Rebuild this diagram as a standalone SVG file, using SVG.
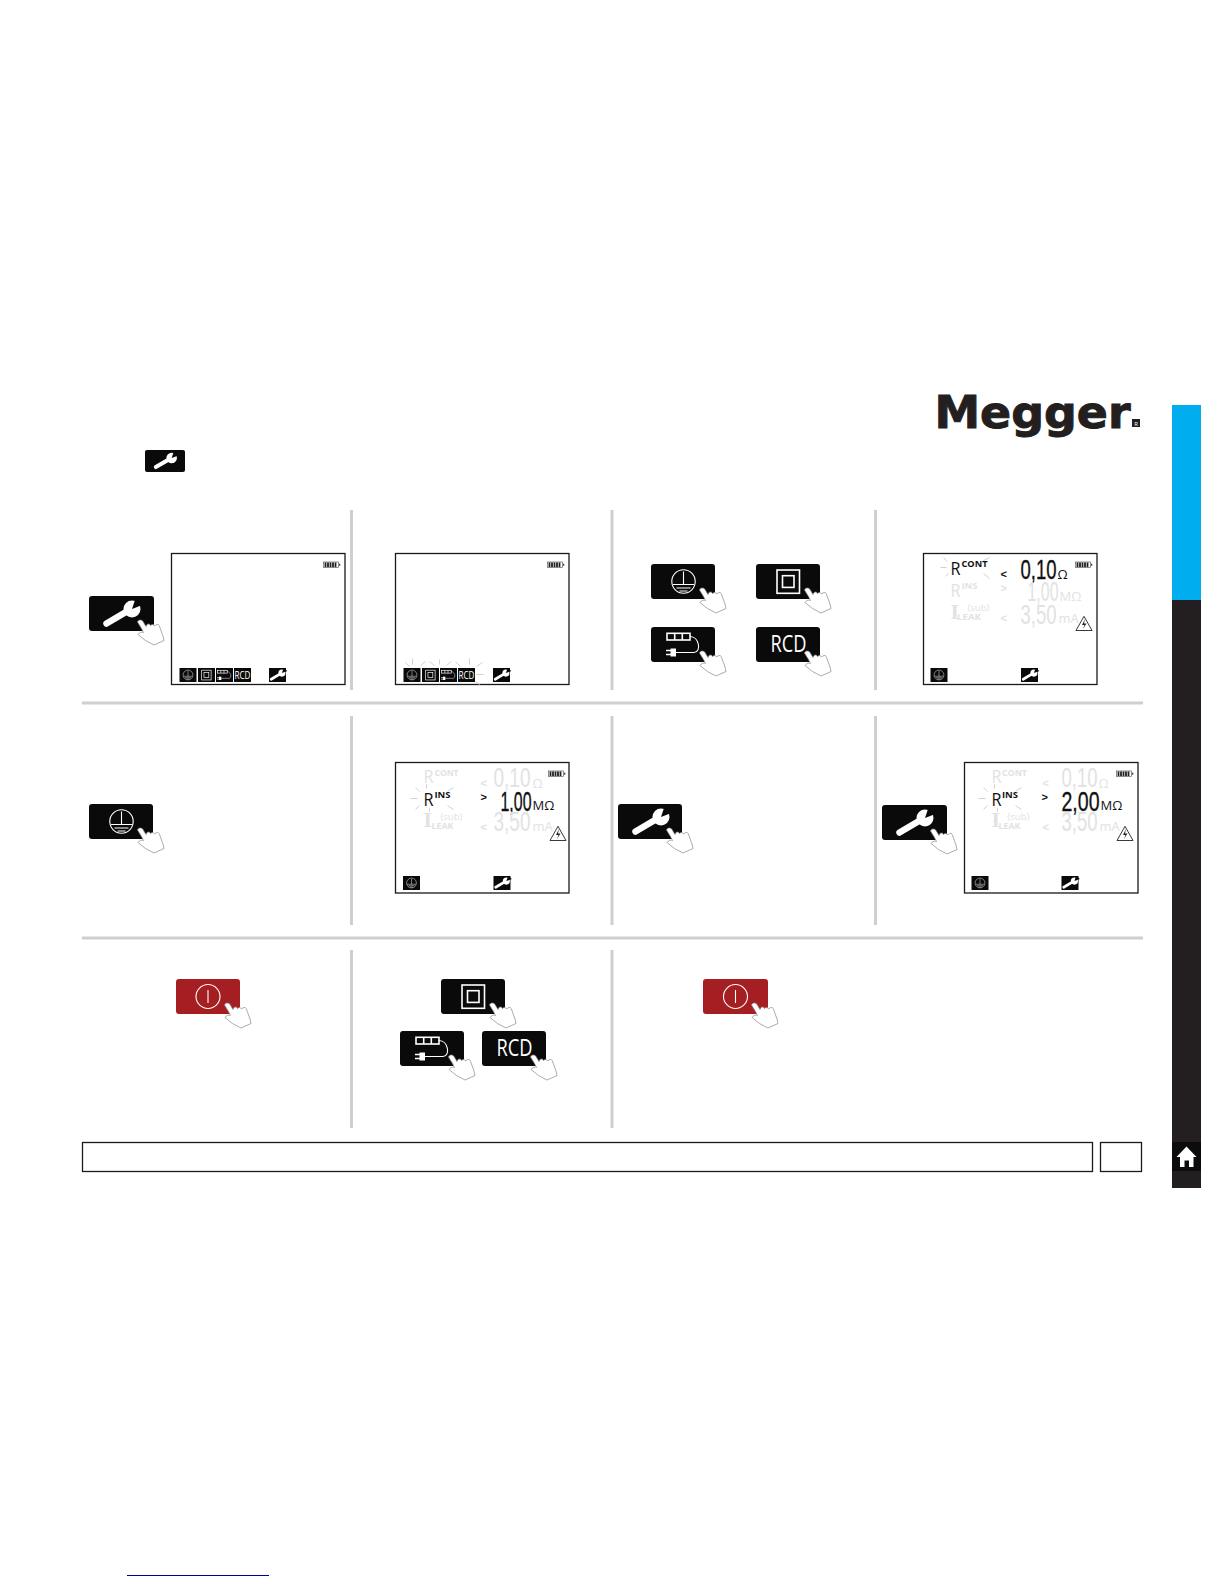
<svg xmlns="http://www.w3.org/2000/svg" xmlns:xlink="http://www.w3.org/1999/xlink" width="1224" height="1584" viewBox="0 0 1224 1584">
<style>
text{font-family:"Open Sans","Liberation Sans",sans-serif}
.frame{fill:#fff;stroke:#1a1a1a;stroke-width:1.3}
.div{fill:#cfcfcf}
.blk{fill:#0a0a0a}
.ln{fill:none;stroke:#fff;stroke-width:1.1}
.lnb{fill:none;stroke:#fff;stroke-width:1.6}
.lit{fill:#111}
.dim{fill:#e2e2e2}
.ray{stroke:#c4c4c4;stroke-width:.8;fill:none}
.seg{font-family:"Liberation Sans",sans-serif;font-size:28px}
.seg.lit{stroke:#111;stroke-width:.35}
.R{font-size:18px}
.sup{font-size:9.5px;font-weight:700}
.sub{font-size:9.5px}
.unit{font-size:13px}
.chev{font-size:11px;font-weight:700;font-family:"Liberation Sans",sans-serif}
</style>
<defs>
<g id="hand"><path d="M48.500 26C49.500 23.500 52.500 23.500 54 25.500L57 30.500L58 28.500C59.500 27.500 61 28 61.500 29.500C63 28 64.800 28.500 65.800 30C67.300 28 69.200 28 70.200 29.500L74 40L75 44.500L65 49L56.500 44.500L49 38.500C50 36.500 53 35.500 54.500 36.500L52.500 32.500Z" fill="#fff" stroke="#888" stroke-width=".7" stroke-linejoin="round"/></g>
<g id="g-wrench"><path d="M17.500 27.500L37 16" stroke="#fff" stroke-width="6.500" stroke-linecap="round" fill="none"/><circle cx="43" cy="13" r="8.500" fill="#fff"/><path d="M43 13L47 1L56 8Z" fill="#0a0a0a"/></g>
<g id="g-earth"><circle cx="32.500" cy="17.500" r="11.700" class="ln"/><path d="M32.500 7.500V20.500M22 20.500H43M25.500 24H39.500M28.500 27H36.500" class="ln"/></g>
<g id="g-double"><rect x="21" y="6" width="22.500" height="23.300" class="lnb"/><rect x="26.500" y="11.700" width="11.500" height="11.700" class="lnb"/></g>
<g id="g-lead"><rect x="16" y="6.300" width="23" height="6.700" class="lnb"/><path d="M23.700 6.300V13M31.300 6.300V13" class="lnb"/><path d="M39 9.500C48 9.500 51 25 43 25.500H25" class="ln" stroke-width="1.500"/><path d="M19.500 21.500H25V29.500H19.500Z" fill="#fff"/><path d="M15 23.500H20M15 27.500H20" class="lnb"/></g>
<g id="g-rcd"><text x="32.500" y="24.700" font-size="23" fill="#fff" text-anchor="middle" textLength="36" lengthAdjust="spacingAndGlyphs">RCD</text></g>
<rect id="btn" width="64" height="35" rx="3" class="blk"/>
<g id="s-earth"><rect width="17" height="14" class="blk"/><use xlink:href="#g-earth" transform="translate(-5.150 -.35) scale(.42)"/></g>
<g id="s-double"><rect width="17" height="14" class="blk"/><use xlink:href="#g-double" transform="translate(-5.150 -.35) scale(.42)"/></g>
<g id="s-lead"><rect width="17" height="14" class="blk"/><use xlink:href="#g-lead" transform="translate(-5.150 -.35) scale(.42)"/></g>
<g id="s-rcd"><rect width="17" height="14" class="blk"/><text x="8.500" y="11" font-size="10" fill="#fff" text-anchor="middle" textLength="16" lengthAdjust="spacingAndGlyphs">RCD</text></g>
<g id="s-wrench"><rect width="17" height="14" class="blk"/><use xlink:href="#g-wrench" transform="translate(-5.150 -.35) scale(.42)"/></g>
<g id="battery"><rect x="0" y="0" width="15" height="5.500" fill="#fff" stroke="#444" stroke-width=".6"/><path d="M2 .5V5M4.500 .5V5M7 .5V5M9.500 .5V5M12 .5V5" stroke="#222" stroke-width="1.800"/><rect x="15.500" y="1.700" width="1.300" height="2" fill="#444"/></g>
<g id="warn"><path d="M8.500 .8L16.500 15H.5Z" fill="#fff" stroke="#222" stroke-width=".9" stroke-linejoin="round"/><path d="M9.500 3.500L6.500 9.500H9L7.500 13.500L11 8H8.500Z" fill="#222"/></g>
<g id="rays"><path class="ray" d="M-16 0H-10M-13 -10L-9 -6M-11 9L-8 6M27 -7L33 -10M27 6L33 11"/></g>
<g id="raysins"><path class="ray" d="M-17 0H-10M-12 -11L-8 -7M-12 11L-8 7M-1 -14V-10M20 -7L26 -11M20 7L26 11M2 13V10"/></g>
<g id="menu"><use xlink:href="#s-earth" x="8" y="114.500"/><use xlink:href="#s-double" x="26.500" y="114.500"/><use xlink:href="#s-lead" x="44.500" y="114.500"/><use xlink:href="#s-rcd" x="62.500" y="114.500"/><use xlink:href="#s-wrench" x="97.500" y="114.500"/></g>
</defs>
<rect width="1224" height="1584" fill="#fff"/>

<g id="logo"><text x="934.500" y="427.700" font-size="45" font-weight="700" fill="#231f20" stroke="#231f20" stroke-width="1" textLength="196" lengthAdjust="spacingAndGlyphs" style="font-family:'DejaVu Sans',sans-serif">Megger</text><rect x="1132" y="419" width="8" height="8" fill="#231f20"/><text x="1136" y="425.500" font-size="6" fill="#fff" text-anchor="middle">R</text></g>
<g id="sidebar"><rect x="1172" y="405" width="29" height="195" fill="#00aeef"/><rect x="1172" y="600" width="29" height="588" fill="#231f20"/><rect x="1172" y="1142" width="29" height="29" fill="#0c0c0c"/><path d="M1186.500 1146.500L1196.500 1157H1193.500V1167H1189V1160.500H1184.500V1167H1180V1157H1176.500Z" fill="#fff"/></g>
<g id="top-wrench"><rect x="145" y="450" width="40" height="22" rx="2" class="blk"/><use xlink:href="#g-wrench" transform="translate(145 450) scale(.62)"/></g>

<g id="dividers">
<rect class="div" x="350" y="510" width="3" height="180"/><rect class="div" x="610.500" y="510" width="3" height="180"/><rect class="div" x="874" y="510" width="3" height="180"/>
<rect class="div" x="82" y="701.500" width="1061" height="3"/>
<rect class="div" x="350" y="716" width="3" height="209"/><rect class="div" x="610.500" y="716" width="3" height="209"/><rect class="div" x="874" y="716" width="3" height="209"/>
<rect class="div" x="82" y="936.500" width="1061" height="3"/>
<rect class="div" x="350" y="950" width="3" height="178"/><rect class="div" x="610.500" y="950" width="3" height="178"/>
</g>

<g id="step1"><rect x="89" y="596" width="65" height="35" rx="3" class="blk"/><use xlink:href="#g-wrench" x="89" y="596"/><use xlink:href="#hand" x="89" y="596"/>
<g transform="translate(171.500 553.500)"><rect class="frame" width="173.500" height="131"/><use xlink:href="#battery" x="152" y="8.500"/><use xlink:href="#menu"/></g></g>

<g id="step2"><g transform="translate(395.500 553.500)"><rect class="frame" width="173.500" height="131"/><use xlink:href="#battery" x="152" y="8.500"/><use xlink:href="#menu"/>
<path class="ray" d="M10 109L14 113M17 105V111M25 112L30 108M34 108L39 112M44 106V111M51 112L56 108M60 108L65 113M74 105V111M81 113L87 109M81 121H88M80 128L85 132"/></g></g>

<g id="step3"><use xlink:href="#btn" x="651" y="564"/><use xlink:href="#g-earth" x="651" y="564"/><use xlink:href="#hand" x="651" y="564"/>
<use xlink:href="#btn" x="756" y="564"/><use xlink:href="#g-double" x="756" y="564"/><use xlink:href="#hand" x="756" y="564"/>
<use xlink:href="#btn" x="651" y="627"/><use xlink:href="#g-lead" x="651" y="627"/><use xlink:href="#hand" x="651" y="627"/>
<use xlink:href="#btn" x="756" y="627"/><use xlink:href="#g-rcd" x="756" y="627"/><use xlink:href="#hand" x="756" y="627"/></g>

<g id="step4"><g transform="translate(923.500 553.500)"><rect class="frame" width="173.500" height="131"/><use xlink:href="#battery" x="152" y="8.500"/>
<use xlink:href="#rays" x="33" y="14"/>
<text class="R lit" x="27" y="21.500" textLength="10" lengthAdjust="spacingAndGlyphs">R</text><text class="sup lit" x="38" y="13.500" textLength="26" lengthAdjust="spacingAndGlyphs">CONT</text><text class="chev lit" x="77" y="24">&lt;</text>
<text class="seg lit" x="97" y="25" textLength="36" lengthAdjust="spacingAndGlyphs">0,10</text><text class="unit lit" x="134" y="25.500">Ω</text>
<text class="R dim" x="27" y="43" textLength="10" lengthAdjust="spacingAndGlyphs">R</text><text class="sup dim" x="38" y="35.500" textLength="16" lengthAdjust="spacingAndGlyphs">INS</text><text class="chev dim" x="77" y="38">&gt;</text>
<text class="seg dim" x="104" y="47.500" textLength="31" lengthAdjust="spacingAndGlyphs">1,00</text><text class="unit dim" x="136" y="47.500">MΩ</text>
<text class="dim" x="27" y="65" font-size="18" font-weight="700" style="font-family:'DejaVu Serif',serif">I</text><text class="sub dim" x="44" y="57.500">(sub)</text><text class="sup dim" x="33.500" y="66.500" textLength="24" lengthAdjust="spacingAndGlyphs">LEAK</text><text class="chev dim" x="77" y="68">&lt;</text>
<text class="seg dim" x="97" y="70" textLength="36" lengthAdjust="spacingAndGlyphs">3,50</text><text class="unit dim" x="135" y="69.500">mA</text>
<use xlink:href="#warn" x="152" y="62"/><use xlink:href="#s-earth" x="7" y="114.500"/><use xlink:href="#s-wrench" x="97.500" y="114.500"/></g></g>

<g id="step5"><use xlink:href="#btn" x="89" y="804"/><use xlink:href="#g-earth" x="89" y="804"/><use xlink:href="#hand" x="89" y="804"/></g>

<g id="step6"><g transform="translate(395.500 762.500)"><rect class="frame" width="173.500" height="130.500"/><use xlink:href="#battery" x="153" y="8.500"/>
<text class="R dim" x="28" y="20.500" textLength="10" lengthAdjust="spacingAndGlyphs">R</text><text class="sup dim" x="39" y="13.500" textLength="24" lengthAdjust="spacingAndGlyphs">CONT</text><text class="chev dim" x="85" y="24">&lt;</text>
<text class="seg dim" x="98" y="24.500" textLength="37" lengthAdjust="spacingAndGlyphs">0,10</text><text class="unit dim" x="137" y="25">Ω</text>
<use xlink:href="#raysins" x="32" y="36"/>
<text class="R lit" x="28" y="43" textLength="10" lengthAdjust="spacingAndGlyphs">R</text><text class="sup lit" x="39" y="35.700" textLength="16" lengthAdjust="spacingAndGlyphs">INS</text><text class="chev lit" x="85" y="38">&gt;</text>
<text class="seg lit" x="105" y="48" textLength="31" lengthAdjust="spacingAndGlyphs">1,00</text><text class="unit lit" x="137" y="47.500">MΩ</text>
<text class="dim" x="28" y="64.500" font-size="18" font-weight="700" style="font-family:'DejaVu Serif',serif">I</text><text class="sub dim" x="45" y="57">(sub)</text><text class="sup dim" x="36" y="66" textLength="22" lengthAdjust="spacingAndGlyphs">LEAK</text><text class="chev dim" x="85" y="68">&lt;</text>
<text class="seg dim" x="98" y="68" textLength="37" lengthAdjust="spacingAndGlyphs">3,50</text><text class="unit dim" x="137" y="68">mA</text>
<use xlink:href="#warn" x="154" y="63"/><use xlink:href="#s-earth" x="7.500" y="113.500"/><use xlink:href="#s-wrench" x="98" y="113.500"/></g></g>

<g id="step7"><use xlink:href="#btn" x="618" y="804"/><use xlink:href="#g-wrench" x="618" y="804"/><use xlink:href="#hand" x="618" y="804"/></g>

<g id="step8"><rect x="882" y="805" width="65" height="35" rx="3" class="blk"/><use xlink:href="#g-wrench" x="882" y="805"/><use xlink:href="#hand" x="882" y="805"/>
<g transform="translate(964.500 762.500)"><rect class="frame" width="173.500" height="130.500"/><use xlink:href="#battery" x="152" y="8.500"/>
<text class="R dim" x="27" y="20.500" textLength="10" lengthAdjust="spacingAndGlyphs">R</text><text class="sup dim" x="37.500" y="13.500" textLength="25" lengthAdjust="spacingAndGlyphs">CONT</text><text class="chev dim" x="78" y="24">&lt;</text>
<text class="seg dim" x="97" y="24.500" textLength="36" lengthAdjust="spacingAndGlyphs">0,10</text><text class="unit dim" x="134" y="25">Ω</text>
<use xlink:href="#raysins" x="31" y="36"/>
<text class="R lit" x="27" y="43" textLength="10" lengthAdjust="spacingAndGlyphs">R</text><text class="sup lit" x="37.500" y="35.700" textLength="16" lengthAdjust="spacingAndGlyphs">INS</text><text class="chev lit" x="77" y="38">&gt;</text>
<text class="seg lit" x="97" y="48" textLength="38" lengthAdjust="spacingAndGlyphs">2,00</text><text class="unit lit" x="136" y="47.500">MΩ</text>
<text class="dim" x="27" y="64.500" font-size="18" font-weight="700" style="font-family:'DejaVu Serif',serif">I</text><text class="sub dim" x="43" y="57">(sub)</text><text class="sup dim" x="34" y="66" textLength="22" lengthAdjust="spacingAndGlyphs">LEAK</text><text class="chev dim" x="78" y="68">&lt;</text>
<text class="seg dim" x="97" y="68" textLength="36" lengthAdjust="spacingAndGlyphs">3,50</text><text class="unit dim" x="135" y="68">mA</text>
<use xlink:href="#warn" x="152" y="63"/><use xlink:href="#s-earth" x="7" y="113.500"/><use xlink:href="#s-wrench" x="97" y="113.500"/></g></g>

<g id="step9"><rect x="176" y="979" width="64" height="35" rx="3" fill="#a51e22"/><circle cx="208" cy="996.500" r="12" class="ln"/><path d="M208 990V1003" class="ln"/><use xlink:href="#hand" x="176" y="979"/></g>

<g id="step10"><use xlink:href="#btn" x="441" y="979"/><use xlink:href="#g-double" x="441" y="979"/><use xlink:href="#hand" x="441" y="979"/>
<use xlink:href="#btn" x="400" y="1031"/><use xlink:href="#g-lead" x="400" y="1031"/><use xlink:href="#hand" x="400" y="1031"/>
<use xlink:href="#btn" x="482" y="1031"/><use xlink:href="#g-rcd" x="482" y="1031"/><use xlink:href="#hand" x="482" y="1031"/></g>

<g id="step11"><rect x="703" y="979" width="65" height="35" rx="3" fill="#a51e22"/><circle cx="735.500" cy="996.500" r="12" class="ln"/><path d="M735.500 990V1003" class="ln"/><use xlink:href="#hand" x="703" y="979"/></g>

<g id="footer"><rect x="82.500" y="1142.500" width="1010" height="29" class="frame"/><rect x="1100.500" y="1142.500" width="41" height="29" class="frame"/><rect x="127" y="1575" width="142" height="1" fill="#0000a0"/></g>
</svg>
